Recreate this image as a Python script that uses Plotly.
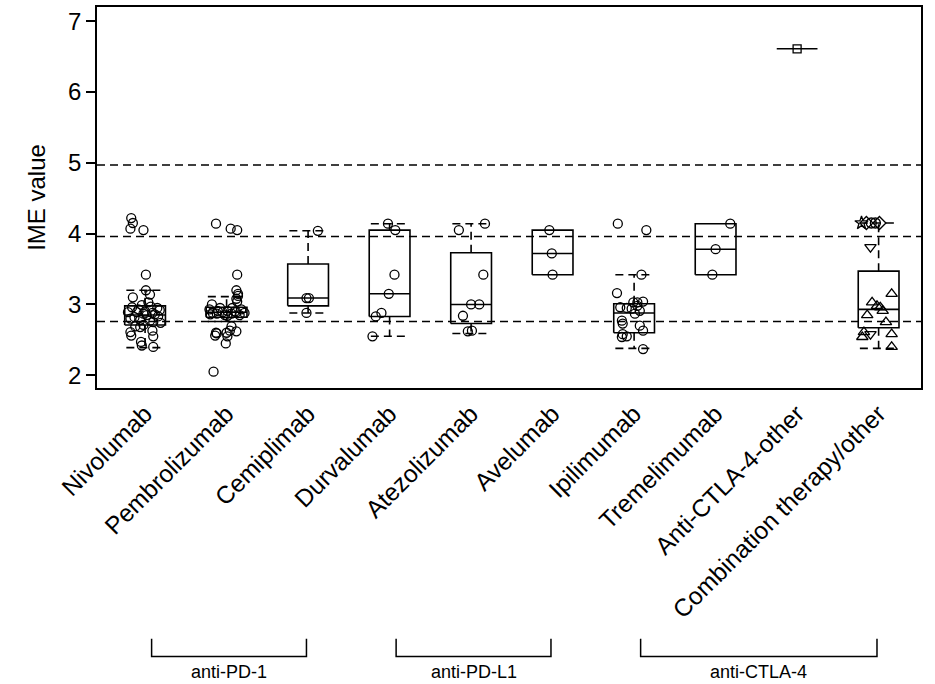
import plotly.graph_objects as go

#%% data
cats = ["Nivolumab", "Pembrolizumab", "Cemiplimab", "Durvalumab", "Atezolizumab",
        "Avelumab", "Ipilimumab", "Tremelimumab", "Anti-CTLA-4-other",
        "Combination therapy/other"]

# box statistics (lower whisker, q1, median, q3, upper whisker)
lo  = [2.39, 2.76, 2.88, 2.55, 2.59, 3.42, 2.38, 3.42, 6.61, 2.38]
q1  = [2.71, 2.82, 2.98, 2.83, 2.73, 3.42, 2.60, 3.42, 6.61, 2.67]
med = [2.85, 2.89, 3.09, 3.15, 3.00, 3.72, 2.88, 3.78, 6.61, 2.93]
q3  = [2.98, 2.96, 3.57, 4.05, 3.73, 4.05, 3.01, 4.14, 6.61, 3.47]
hi  = [3.20, 3.11, 4.04, 4.14, 4.14, 4.05, 3.42, 4.14, 6.61, 4.15]

ref_lines = [2.76, 3.96, 4.97]

# individual patients: value and horizontal jitter (category units)
niv_y = [4.22, 4.15, 4.07, 4.05, 3.42, 3.20, 3.14, 3.10, 3.03, 2.99, 2.96, 2.95,
         2.92, 2.89, 2.89, 2.88, 2.87, 2.85, 2.83, 2.80, 2.78, 2.77, 2.75, 2.71,
         2.69, 2.93, 2.86, 2.90, 2.68, 2.63, 2.61, 2.56, 2.55, 2.47, 2.42, 2.40,
         2.97, 2.82, 2.74]
niv_dx = [-0.17, -0.15, -0.18, -0.02, 0.01, 0.01, 0.06, -0.15, 0.04, -0.04, -0.16, 0.15,
          0.18, -0.21, -0.10, 0.09, -0.02, 0.02, 0.16, -0.18, -0.06, 0.06, 0.10, -0.02,
          -0.12, -0.08, 0.12, 0.00, -0.06, 0.09, -0.18, -0.17, 0.10, -0.05, -0.04, 0.10,
          0.07, -0.13, 0.19]

pem_y = [4.14, 4.07, 4.05, 3.42, 3.20, 3.15, 3.12, 3.08, 3.04, 3.00, 2.95, 2.93,
         2.93, 2.91, 2.91, 2.89, 2.89, 2.88, 2.88, 2.87, 2.87, 2.85, 2.85, 2.84,
         2.95, 2.90, 2.86, 2.69, 2.63, 2.62, 2.60, 2.60, 2.59, 2.56, 2.55, 2.45, 2.05]
pem_dx = [-0.13, 0.05, 0.13, 0.13, 0.12, 0.14, 0.14, 0.12, 0.13, -0.18, 0.07, -0.21,
          0.18, -0.11, 0.01, -0.05, 0.12, -0.17, 0.22, -0.12, 0.06, -0.02, 0.16, 0.01,
          -0.08, 0.10, -0.20, 0.06, 0.04, 0.12, -0.13, 0.00, -0.12, -0.14, 0.01, -0.01, -0.16]

cem_y = [4.04, 3.09, 3.09, 2.88]
cem_dx = [0.12, -0.02, 0.01, -0.02]

dur_y = [4.14, 4.05, 3.42, 3.15, 2.88, 2.83, 2.55]
dur_dx = [-0.02, 0.07, 0.06, -0.01, -0.10, -0.17, -0.21]

ate_y = [4.05, 4.14, 3.42, 3.00, 3.00, 2.84, 2.62, 2.63]
ate_dx = [-0.15, 0.17, 0.15, 0.00, 0.10, -0.10, -0.04, 0.01]

ave_y = [4.05, 3.72, 3.42]
ave_dx = [-0.04, -0.01, 0.00]

ipi_y = [4.14, 4.05, 3.42, 3.16, 3.03, 3.04, 2.98, 2.95, 2.94, 2.91, 2.87, 2.77,
         2.73, 2.70, 2.63, 2.58, 2.54, 2.55, 2.37, 2.96, 3.03]
ipi_dx = [-0.20, 0.15, 0.09, -0.21, -0.01, 0.11, 0.04, -0.09, -0.03, 0.07, 0.01, -0.15,
          -0.14, 0.07, 0.11, -0.14, -0.15, -0.09, 0.11, -0.17, 0.04]

tre_y = [4.14, 3.78, 3.42]
tre_dx = [0.18, 0.00, -0.04]

oth_y = [6.61]
oth_dx = [0.00]

com_y = [4.15, 4.15, 4.15, 4.15, 4.15, 3.81, 3.15, 3.03, 2.98, 2.96, 2.91, 2.85,
         2.75, 2.61, 2.54, 2.58, 2.58, 2.40]
com_dx = [-0.21, -0.15, -0.09, -0.04, 0.01, -0.10, 0.16, -0.08, -0.02, 0.02, 0.05, -0.14,
          0.09, -0.18, -0.20, -0.10, 0.16, 0.16]
com_sym = ["star-open", "diamond-open", "circle-open", "circle-open", "diamond-open",
           "triangle-down-open", "triangle-up-open", "triangle-up-open", "triangle-up-open",
           "triangle-up-open", "triangle-up-open", "triangle-up-open", "triangle-up-open",
           "triangle-up-open", "triangle-up-open", "triangle-down-open", "triangle-up-open",
           "triangle-up-open"]

pts_y = [niv_y, pem_y, cem_y, dur_y, ate_y, ave_y, ipi_y, tre_y, oth_y, com_y]
pts_dx = [niv_dx, pem_dx, cem_dx, dur_dx, ate_dx, ave_dx, ipi_dx, tre_dx, oth_dx, com_dx]

groups = ["anti-PD-1", "anti-PD-L1", "anti-CTLA-4"]
group_first = [0, 3, 6]
group_last = [2, 5, 9]

#%% figure
FONT = "Liberation Sans, Arial, sans-serif"
w = 0.25   # half box width
sw = 0.23  # half staple width

fig = go.Figure()

# reference lines
for v in ref_lines:
    fig.add_shape(type="line", xref="paper", x0=0, x1=1, y0=v, y1=v,
                  line=dict(color="black", width=1.5, dash="8px,5px"), layer="below")

# boxes + medians (solid), whiskers + staples (dashed)
bx, by, wx, wy = [], [], [], []
for i in range(len(cats)):
    if q3[i] > q1[i]:
        bx += [i - w, i + w, i + w, i - w, i - w, None]
        by += [q1[i], q1[i], q3[i], q3[i], q1[i], None]
    bx += [i - w, i + w, None]
    by += [med[i], med[i], None]
    if hi[i] > q3[i]:
        wx += [i, i, None, i - sw, i + sw, None]
        wy += [q3[i], hi[i], None, hi[i], hi[i], None]
    if lo[i] < q1[i]:
        wx += [i, i, None, i - sw, i + sw, None]
        wy += [q1[i], lo[i], None, lo[i], lo[i], None]

fig.add_trace(go.Scatter(x=wx, y=wy, mode="lines", hoverinfo="skip",
                         line=dict(color="black", width=1.6, dash="8px,5px")))
fig.add_trace(go.Scatter(x=bx, y=by, mode="lines", hoverinfo="skip",
                         line=dict(color="black", width=1.6)))

# points
for i in range(len(cats)):
    xs = [i + d for d in pts_dx[i]]
    if i == len(cats) - 1:
        sym = com_sym
        size = 10
    elif cats[i] == "Anti-CTLA-4-other":
        sym = "square-open"
        size = 8
    else:
        sym = "circle-open"
        size = 9
    fig.add_trace(go.Scatter(
        x=xs, y=pts_y[i], mode="markers", name=cats[i],
        marker=dict(symbol=sym, size=size, color="black", line=dict(width=1.3, color="black")),
    ))

# group brackets under the labels
for g in range(len(groups)):
    x0, x1 = group_first[g] + 0.08, group_last[g] - 0.02
    fig.add_shape(type="path", xref="x", yref="paper",
                  path=f"M {x0},-0.658 L {x0},-0.705 L {x1},-0.705 L {x1},-0.658",
                  line=dict(color="black", width=1.5))
    fig.add_annotation(x=(x0 + x1) / 2, y=-0.745, xref="x", yref="paper",
                       text=groups[g], showarrow=False, yanchor="middle",
                       font=dict(family=FONT, size=18, color="black"))

fig.update_xaxes(
    range=[-0.59, 9.52], tickvals=list(range(len(cats))), ticktext=cats,
    tickangle=-45, ticks="", showgrid=False, zeroline=False,
    showline=True, mirror=True, linecolor="black", linewidth=1.5,
    tickfont=dict(family=FONT, size=24.5, color="black"))

fig.update_yaxes(
    range=[1.82, 7.20], tickvals=[2, 3, 4, 5, 6, 7],
    ticks="outside", ticklen=9, tickwidth=1.5, tickcolor="black",
    showgrid=False, zeroline=False,
    showline=True, mirror=True, linecolor="black", linewidth=1.5,
    tickfont=dict(family=FONT, size=24, color="black"),
    title=dict(text="IME value", font=dict(family=FONT, size=24, color="black"), standoff=16))

fig.update_layout(
    width=935, height=684,
    paper_bgcolor="white", plot_bgcolor="white",
    margin=dict(l=97, r=14, t=5, b=296),
    showlegend=False,
)

# page has a default body margin; remove it so the figure sits at the window corner
fig.write_html("out.html", config={"displayModeBar": False},
               post_script="document.body.style.margin='0';")
